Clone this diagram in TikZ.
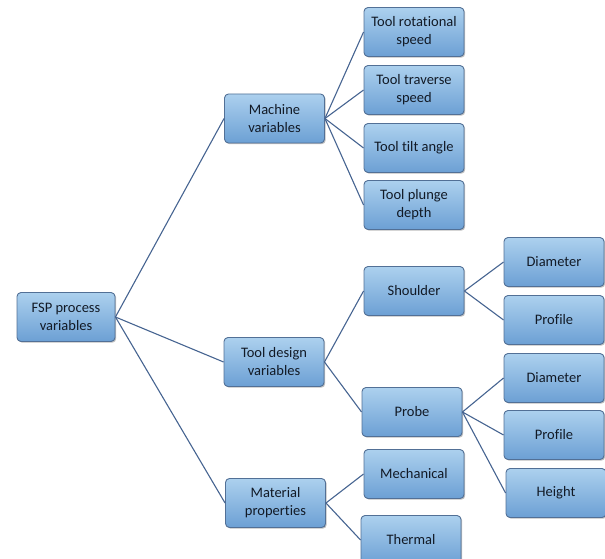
\documentclass[tikz,border=0pt]{standalone}
\usepackage{fontspec}
\setmainfont{Carlito}[Ligatures={NoCommon}]
\usetikzlibrary{shadows}
\definecolor{boxtop}{RGB}{172,208,238}
\definecolor{boxbot}{RGB}{108,160,212}
\definecolor{boxline}{RGB}{82,112,150}
\definecolor{conn}{RGB}{70,100,145}
\definecolor{txt}{RGB}{18,26,38}
\tikzset{
  boxnode/.style={draw=boxline, line width=0.9pt, rounded corners=4pt,
    top color=boxtop, bottom color=boxbot, minimum width=100pt,
    minimum height=49pt, inner sep=0pt, align=center, text=txt,
    font=\fontsize{14.5}{18}\selectfont,
    drop shadow={shadow xshift=1.2pt, shadow yshift=-1.2pt, opacity=0.25, fill=black}},
  connline/.style={draw=conn, line width=1.1pt}
}
\begin{document}
\begin{tikzpicture}[x=1pt,y=1pt]
\useasboundingbox (0,0) rectangle (605,558);
\begin{scope}
\clip (0,0) rectangle (605,558);
\node[boxnode, minimum width=98pt] (fsp) at (66,241) {FSP process\\variables};
\node[boxnode] (mach) at (274.5,439.5) {Machine\\variables};
\node[boxnode] (trs) at (414,526) {Tool rotational\\speed};
\node[boxnode] (tts) at (414,468) {Tool traverse\\speed};
\node[boxnode] (tta) at (414,410) {Tool tilt angle};
\node[boxnode] (tpd) at (414,353) {Tool plunge\\depth};
\node[boxnode] (tdv) at (274,196) {Tool design\\variables};
\node[boxnode] (sh) at (414,267) {Shoulder};
\node[boxnode] (pr) at (412,146) {Probe};
\node[boxnode] (d1) at (554,296) {Diameter};
\node[boxnode] (p1) at (554,238) {Profile};
\node[boxnode] (d2) at (554,180) {Diameter};
\node[boxnode] (p2) at (554,123) {Profile};
\node[boxnode] (h) at (556,65) {Height};
\node[boxnode] (mat) at (275.5,55) {Material\\properties};
\node[boxnode] (mech) at (414,84) {Mechanical};
\node[boxnode] (th) at (411,18) {Thermal};
\foreach \a/\b in {fsp/mach, fsp/tdv, fsp/mat, mach/trs, mach/tts, mach/tta, mach/tpd,
  tdv/sh, tdv/pr, sh/d1, sh/p1, pr/d2, pr/p2, pr/h, mat/mech, mat/th}
  \draw[connline] (\a.east) -- (\b.west);
\end{scope}
\end{tikzpicture}
\end{document}
